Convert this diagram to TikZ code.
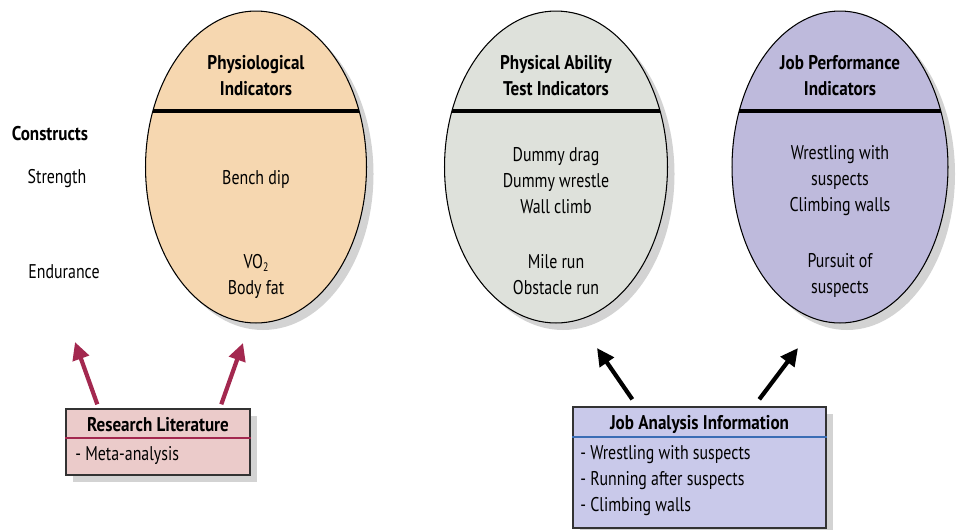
\documentclass[tikz,border=0pt]{standalone}
\usepackage{fontspec}
\setmainfont{PT Sans}[FakeStretch=0.8, BoldFeatures={FakeStretch=0.86}]
\usetikzlibrary{shapes.geometric,shadows,arrows.meta}
\definecolor{peach}{HTML}{F6D7B0}
\definecolor{sage}{HTML}{DEE1DB}
\definecolor{lav}{HTML}{BEBADC}
\definecolor{rosebox}{HTML}{EBCBCA}
\definecolor{bluebox}{HTML}{C9C9EA}
\definecolor{crim}{HTML}{A3284F}
\definecolor{rule}{HTML}{3A6DB5}
\tikzset{
  oval/.style={ellipse, draw=black, line width=0.6pt, minimum height=6.24cm,
    drop shadow={opacity=0.35, shadow xshift=4pt, shadow yshift=-4pt}},
  infobox/.style={rectangle, draw=black!80, line width=0.8pt,
    drop shadow={opacity=0.35, shadow xshift=4pt, shadow yshift=-4pt}},
  txt/.style={font=\fontsize{11.3}{14.8}\selectfont, align=center, inner sep=0pt},
  ttl/.style={txt, font=\fontsize{11.3}{14.8}\selectfont\bfseries},
  divider/.style={line width=1.8pt, black},
  redarrow/.style={crim, line width=2.4pt, -{Triangle[length=10pt,width=9.5pt]}},
  blackarrow/.style={black, line width=2.4pt, -{Triangle[length=10pt,width=9.5pt]}},
}
\begin{document}
\begin{tikzpicture}[x=0.02cm,y=-0.02cm]
\useasboundingbox (0,0) rectangle (958,529);
% ellipses
\node[oval, fill=peach, minimum width=4.42cm] (e1) at (256,167) {};
\node[oval, fill=sage, minimum width=4.46cm] (e2) at (556,167) {};
\node[oval, fill=lav, minimum width=4.32cm] (e3) at (840,167) {};
\begin{scope}
\clip (e1.center) ellipse [x radius=2.21cm, y radius=3.12cm];
\draw[divider] (100,111) -- (400,111);
\end{scope}
\begin{scope}
\clip (e2.center) ellipse [x radius=2.23cm, y radius=3.12cm];
\draw[divider] (400,111) -- (700,111);
\end{scope}
\begin{scope}
\clip (e3.center) ellipse [x radius=2.16cm, y radius=3.12cm];
\draw[divider] (700,111) -- (958,111);
\end{scope}
% titles
\node[ttl] (t1) at (256,76) {Physiological\\Indicators};
\node[ttl] (t2) at (556,76) {Physical Ability\\Test Indicators};
\node[ttl] (t3) at (840,76) {Job Performance\\Indicators};
% contents
\node[txt] (b1) at (256,179) {Bench dip};
\node[txt] (b2) at (256,276) {VO\raisebox{-0.35ex}{\scriptsize 2}\\Body fat};
\node[txt] (c1) at (556,181) {Dummy drag\\Dummy wrestle\\Wall climb};
\node[txt] (c2) at (556,275) {Mile run\\Obstacle run};
\node[txt] (d1) at (840,181) {Wrestling with\\suspects\\Climbing walls};
\node[txt] (d2) at (840,275) {Pursuit of\\suspects};
% left labels
\node[ttl] (k0) at (50,134) {Constructs};
\node[txt] (k1) at (57,179) {Strength};
\node[txt] (k2) at (64,272) {Endurance};
% boxes
\node[infobox, fill=rosebox, minimum width=3.68cm, minimum height=1.32cm] (rl) at (158,442) {};
\draw[crim, line width=1pt] (rl.west |- 0,438) -- (rl.east |- 0,438);
\node[ttl] (rlt) at (158,425) {Research Literature};
\node[txt, anchor=west] (rl1) at (75,455) {- Meta-analysis};
\node[infobox, fill=bluebox, minimum width=5.06cm, minimum height=2.42cm] (ja) at (699.5,467.5) {};
\draw[rule, line width=1pt] (ja.west |- 0,437) -- (ja.east |- 0,437);
\node[ttl] (jat) at (699.5,424) {Job Analysis Information};
\node[txt, anchor=west] (ja1) at (580,455) {- Wrestling with suspects};
\node[txt, anchor=west] (ja2) at (580,481) {- Running after suspects};
\node[txt, anchor=west] (ja3) at (580,507) {- Climbing walls};
% arrows
\coordinate (p1) at (75,342);
\coordinate (p2) at (243,343);
\coordinate (p3) at (597,348);
\coordinate (p4) at (798,348);
\draw[redarrow] ([xshift=0.64cm,yshift=0.08cm]rl.north west) -- (p1);
\draw[redarrow] ([xshift=3.12cm,yshift=0.08cm]rl.north west) -- (p2);
\draw[blackarrow] ([xshift=1.2cm,yshift=0.14cm]ja.north west) -- (p3);
\draw[blackarrow] ([xshift=3.74cm,yshift=0.14cm]ja.north west) -- (p4);
\end{tikzpicture}
\end{document}
